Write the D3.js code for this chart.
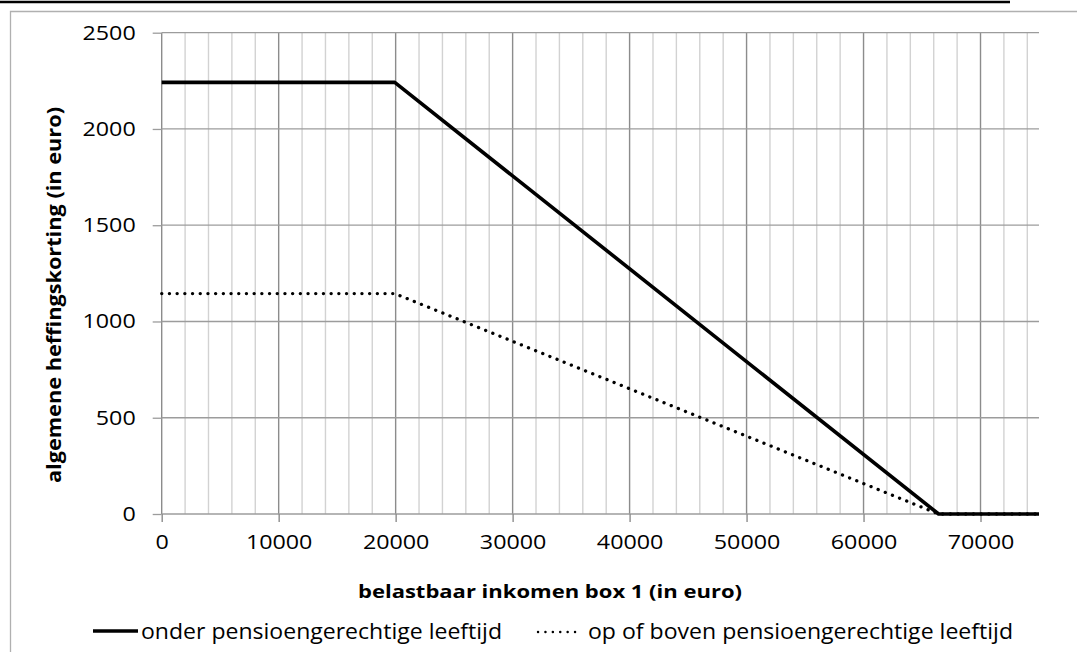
<!DOCTYPE html>
<html lang="nl">
<head>
    <meta charset="UTF-8">
    <title>Algemene heffingskorting</title>
    <style type="text/css">
        body { margin: 0; background: white; }
        svg { display: block; }
        .tick text { font-family: "Open Sans", "Noto Sans", sans-serif; }
        .axtitle { font-family: "Open Sans", "Noto Sans", sans-serif; font-weight: bold; }
        .legend text { font-family: "Open Sans", "Noto Sans", sans-serif; }
    </style>
</head>
<script src="https://d3js.org/d3.v7.min.js"></script>
<body>
<svg></svg>
<script>
// data
var income = [0, 19922, 66417, 75000];
var underPension = [2242, 2242, 0, 0];
var abovePension = [1145, 1145, 0, 0];

var xTicks = [0, 10000, 20000, 30000, 40000, 50000, 60000, 70000];
var xMinor = d3.range(0, 75001, 2000);
var yTicks = [0, 500, 1000, 1500, 2000, 2500];

var seriesNames = ["onder pensioengerechtige leeftijd", "op of boven pensioengerechtige leeftijd"];

var svgWidth = 1077;
var svgHeight = 652;

var svg = d3.select("svg")
    .attr("width", svgWidth)
    .attr("height", svgHeight);

// cut off heading underline at the top
svg.append("line")
    .attr("x1", 0).attr("x2", 1010)
    .attr("y1", 2).attr("y2", 2)
    .style("stroke", "black")
    .style("stroke-width", 2.5);

// chart frame (only left and top visible)
svg.append("path")
    .attr("d", "M10.5,652 L10.5,11.5 L1077,11.5")
    .style("fill", "none")
    .style("stroke", "#b0b0b0")
    .style("stroke-width", 1.3);

var xs = d3.scaleLinear().domain([0, 75000]).range([161.7, 1039]);
var ys = d3.scaleLinear().domain([0, 2500]).range([514, 32.7]);

// vertical grid lines
svg.append("g").selectAll("line")
    .data(xMinor)
    .enter()
    .append("line")
    .attr("x1", function(d) { return xs(d); })
    .attr("x2", function(d) { return xs(d); })
    .attr("y1", ys(0))
    .attr("y2", ys(2500))
    .style("stroke", function(d) { return d % 10000 == 0 ? "#8c8c8c" : "#d2d2d2"; })
    .style("stroke-width", 1.4);

// horizontal grid lines
svg.append("g").selectAll("line")
    .data(yTicks)
    .enter()
    .append("line")
    .attr("x1", xs(0))
    .attr("x2", xs(75000))
    .attr("y1", function(d) { return ys(d); })
    .attr("y2", function(d) { return ys(d); })
    .style("stroke", "#9c9c9c")
    .style("stroke-width", 1.3);

// x axis
var xAxis = svg.append("g")
    .attr("transform", "translate(0," + ys(0) + ")")
    .call(d3.axisBottom(xs).tickValues(xTicks).tickSize(8).tickPadding(13).tickFormat(d3.format("d")));
xAxis.select(".domain").remove();
xAxis.selectAll(".tick line").style("stroke", "#8c8c8c").style("stroke-width", 1.4);
xAxis.selectAll(".tick text")
    .attr("font-size", "20px")
    .attr("fill", "black")
    .attr("textLength", function(d) { return String(d).length * 13.3; })
    .attr("lengthAdjust", "spacingAndGlyphs");

// y axis
var yAxis = svg.append("g")
    .attr("transform", "translate(" + xs(0) + ",0)")
    .call(d3.axisLeft(ys).tickValues(yTicks).tickSize(9).tickPadding(17).tickFormat(d3.format("d")));
yAxis.select(".domain").remove();
yAxis.selectAll(".tick line").style("stroke", "#9c9c9c").style("stroke-width", 1.3);
yAxis.selectAll(".tick text")
    .attr("font-size", "20px")
    .attr("fill", "black")
    .attr("textLength", function(d) { return String(d).length * 13.3; })
    .attr("lengthAdjust", "spacingAndGlyphs");

// axis titles
svg.append("text")
    .attr("class", "axtitle")
    .attr("x", 550)
    .attr("y", 598)
    .attr("text-anchor", "middle")
    .attr("font-size", "18px")
    .attr("textLength", 384)
    .attr("lengthAdjust", "spacingAndGlyphs")
    .text("belastbaar inkomen box 1 (in euro)");

svg.append("text")
    .attr("class", "axtitle")
    .attr("transform", "translate(61,295) rotate(-90)")
    .attr("text-anchor", "middle")
    .attr("font-size", "19px")
    .attr("textLength", 376)
    .attr("lengthAdjust", "spacingAndGlyphs")
    .text("algemene heffingskorting (in euro)");

// lines
var line = d3.line()
    .x(function(d, i) { return xs(income[i]); })
    .y(function(d) { return ys(d); });

svg.append("path")
    .datum(underPension)
    .attr("d", line)
    .style("fill", "none")
    .style("stroke", "black")
    .style("stroke-width", 3.6)
    .style("stroke-linejoin", "round");

svg.append("path")
    .datum(abovePension)
    .attr("d", line)
    .style("fill", "none")
    .style("stroke", "black")
    .style("stroke-width", 3.3)
    .style("stroke-linecap", "round")
    .style("stroke-dasharray", "0.1 7.6");

// legend
var legend = svg.append("g").attr("class", "legend");
legend.append("line")
    .attr("x1", 93).attr("x2", 138)
    .attr("y1", 631).attr("y2", 631)
    .style("stroke", "black")
    .style("stroke-width", 3.6);
legend.append("text")
    .attr("x", 141)
    .attr("y", 639)
    .attr("font-size", "22px")
    .attr("textLength", 361)
    .attr("lengthAdjust", "spacingAndGlyphs")
    .text(seriesNames[0]);
legend.append("line")
    .attr("x1", 538).attr("x2", 582)
    .attr("y1", 632).attr("y2", 632)
    .style("stroke", "black")
    .style("stroke-width", 2.4)
    .style("stroke-linecap", "round")
    .style("stroke-dasharray", "0.1 7.3");
legend.append("text")
    .attr("x", 588)
    .attr("y", 639)
    .attr("font-size", "22px")
    .attr("textLength", 425)
    .attr("lengthAdjust", "spacingAndGlyphs")
    .text(seriesNames[1]);
</script>
</body>
</html>
